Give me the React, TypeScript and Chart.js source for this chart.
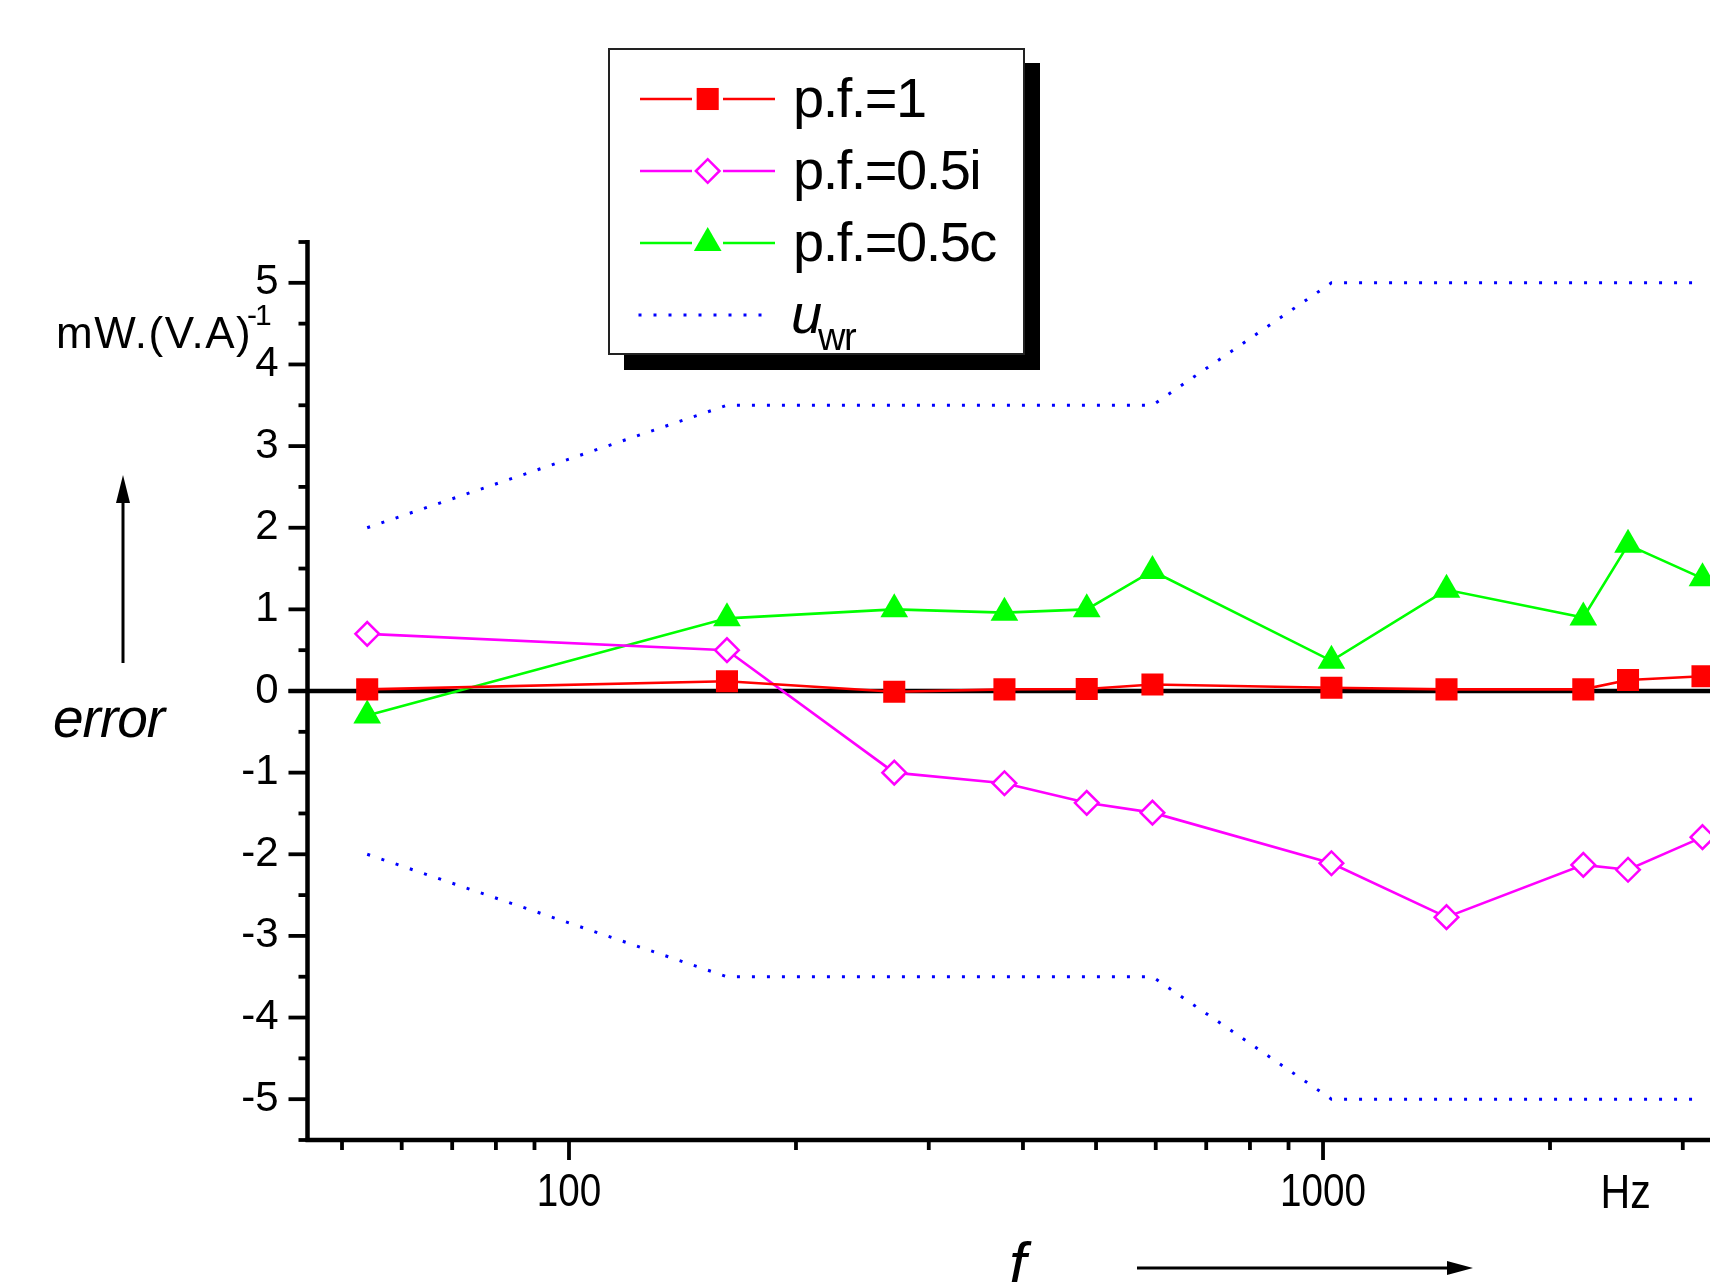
import React, { useEffect, useRef } from 'react';
import { Chart, registerables } from 'chart.js';

Chart.register(...registerables);

// ---- data ----
const freqHz = [54, 162, 270, 378, 486, 594, 1026, 1458, 2214, 2538, 3186];
const errPf1 = [0.02, 0.12, -0.01, 0.02, 0.025, 0.08, 0.04, 0.02, 0.02, 0.135, 0.18];
const errPf05i = [0.7, 0.5, -1.0, -1.13, -1.37, -1.49, -2.11, -2.77, -2.13, -2.19, -1.79];
const errPf05c = [-0.3, 0.89, 1.0, 0.96, 1.0, 1.47, 0.37, 1.24, 0.9, 1.79, 1.38];
const uwrFreq = [54, 162, 594, 1026, 3186];
const uwrUpper = [2, 3.5, 3.5, 5, 5];
const uwrLower = [-2, -3.5, -3.5, -5, -5];
const xLabelValues = [100, 1000];
const seriesNames = ['p.f.=1', 'p.f.=0.5i', 'p.f.=0.5c'];
const uwrName = { main: 'u', sub: 'wr' };
const yUnit = { main: 'mW.(V.A)', sup: '-1' };
const yTitle = 'error';
const xTitle = 'f';
const xUnit = 'Hz';

const RED = '#ff0000';
const MAGENTA = '#ff00ff';
const GREEN = '#00ff00';
const BLUE = '#0000ff';

const CANVAS_W = 1800;
const CANVAS_H = 1282;
const NARROW = 0.84;
const X_LABEL_FONT = '46px "Liberation Sans", Arial, sans-serif';
const HZ_FONT = '49px "Liberation Sans", Arial, sans-serif';

const pts = (xs: number[], ys: number[]) => xs.map((x, i) => ({ x, y: ys[i] }));

function drawMarker(ctx: CanvasRenderingContext2D, style: string, x: number, y: number, color: string) {
  ctx.save();
  if (style === 'rect') {
    const s = 15.6 * Math.SQRT1_2;
    ctx.fillStyle = color;
    ctx.fillRect(x - s, y - s, 2 * s, 2 * s);
  } else if (style === 'rectRot') {
    const r = 11.8;
    ctx.beginPath();
    ctx.moveTo(x - r, y);
    ctx.lineTo(x, y - r);
    ctx.lineTo(x + r, y);
    ctx.lineTo(x, y + r);
    ctx.closePath();
    ctx.fillStyle = '#fff';
    ctx.fill();
    ctx.lineWidth = 2.5;
    ctx.strokeStyle = color;
    ctx.stroke();
  } else if (style === 'triangle') {
    const r = 16;
    ctx.beginPath();
    let rad = 0;
    ctx.moveTo(x + Math.sin(rad) * r, y - Math.cos(rad) * r);
    rad += (2 * Math.PI) / 3;
    ctx.lineTo(x + Math.sin(rad) * r, y - Math.cos(rad) * r);
    rad += (2 * Math.PI) / 3;
    ctx.lineTo(x + Math.sin(rad) * r, y - Math.cos(rad) * r);
    ctx.closePath();
    ctx.fillStyle = color;
    ctx.fill();
  }
  ctx.restore();
}

function narrowText(ctx: CanvasRenderingContext2D, text: string, x: number, y: number) {
  ctx.save();
  ctx.translate(x, y);
  ctx.scale(NARROW, 1);
  ctx.fillText(text, 0, 0);
  ctx.restore();
}

const decorPlugin = {
  id: 'decor',
  beforeDatasetsDraw(chart: any) {
    const ctx: CanvasRenderingContext2D = chart.ctx;
    const xs = chart.scales.x;
    const ys = chart.scales.y;
    const { left, bottom, top } = chart.chartArea;
    ctx.save();
    ctx.strokeStyle = '#000';
    ctx.lineCap = 'butt';
    // zero line
    const y0 = ys.getPixelForValue(0);
    ctx.lineWidth = 4.5;
    ctx.beginPath();
    ctx.moveTo(left - 19, y0);
    ctx.lineTo(chart.width, y0);
    ctx.stroke();
    // y axis
    ctx.beginPath();
    ctx.moveTo(left, top - 2);
    ctx.lineTo(left, bottom + 2);
    ctx.stroke();
    // x axis
    ctx.beginPath();
    ctx.moveTo(left - 2, bottom);
    ctx.lineTo(chart.width, bottom);
    ctx.stroke();
    // y ticks
    ctx.lineWidth = 3.8;
    ys.ticks.forEach((t: any) => {
      const v = t.value;
      const len = Math.abs(v - Math.round(v)) < 1e-9 ? 19 : 9;
      const p = ys.getPixelForValue(v);
      ctx.beginPath();
      ctx.moveTo(left - len, p);
      ctx.lineTo(left, p);
      ctx.stroke();
    });
    // x ticks
    xs.ticks.forEach((t: any) => {
      const v = t.value;
      const e = Math.floor(Math.log10(v) + 1e-9);
      const m = v / Math.pow(10, e);
      if (Math.abs(m - Math.round(m)) > 1e-6) return;
      const len = Math.round(m) === 1 ? 20 : 10;
      const p = xs.getPixelForValue(v);
      ctx.beginPath();
      ctx.moveTo(p, bottom);
      ctx.lineTo(p, bottom + len);
      ctx.stroke();
    });
    ctx.restore();
  },
  afterDraw(chart: any) {
    const ctx: CanvasRenderingContext2D = chart.ctx as any;
    const xs = chart.scales.x;
    const { bottom } = chart.chartArea;
    ctx.save();
    // ---- x tick labels (narrow face) ----
    ctx.fillStyle = '#000';
    ctx.font = X_LABEL_FONT;
    ctx.textAlign = 'center';
    ctx.textBaseline = 'alphabetic';
    xs.ticks.forEach((t: any) => {
      if (!xLabelValues.includes(t.value)) return;
      narrowText(ctx, String(t.value), xs.getPixelForValue(t.value), bottom + 66);
    });
    // ---- Hz ----
    ctx.font = HZ_FONT;
    narrowText(ctx, xUnit, xs.getPixelForValue(2520), bottom + 68);

    // ---- legend ----
    ctx.textAlign = 'left';
    ctx.fillStyle = '#000';
    ctx.fillRect(624, 63, 416, 307);
    ctx.fillStyle = '#fff';
    ctx.fillRect(609, 49, 415, 305);
    ctx.strokeStyle = '#222';
    ctx.lineWidth = 2;
    ctx.strokeRect(609, 49, 415, 305);
    const rows = [99, 171, 243, 315];
    const cols = [RED, MAGENTA, GREEN];
    const styles = ['rect', 'rectRot', 'triangle'];
    (ctx as any).letterSpacing = '-1.5px';
    for (let i = 0; i < 3; i++) {
      const y = rows[i];
      ctx.strokeStyle = cols[i];
      ctx.lineWidth = 2.6;
      ctx.beginPath();
      ctx.moveTo(640, y);
      ctx.lineTo(692, y);
      ctx.moveTo(723, y);
      ctx.lineTo(775, y);
      ctx.stroke();
      drawMarker(ctx, styles[i], 707.7, y, cols[i]);
      ctx.fillStyle = '#000';
      ctx.font = '56px "Liberation Sans", Arial, sans-serif';
      ctx.fillText(seriesNames[i], 793, y + 18);
    }
    // u_wr row
    ctx.fillStyle = BLUE;
    for (let x = 640; x <= 764; x += 15) ctx.fillRect(x - 1.5, rows[3] - 1.5, 3, 3);
    ctx.fillStyle = '#000';
    ctx.font = 'italic 56px "Liberation Sans", Arial, sans-serif';
    ctx.fillText(uwrName.main, 791, 333);
    ctx.font = '38px "Liberation Sans", Arial, sans-serif';
    ctx.fillText(uwrName.sub, 818, 350);

    // ---- y unit ----
    (ctx as any).letterSpacing = '1.5px';
    ctx.font = '44px "Liberation Sans", Arial, sans-serif';
    ctx.fillText(yUnit.main, 56, 348);
    ctx.font = '30px "Liberation Sans", Arial, sans-serif';
    (ctx as any).letterSpacing = '-2px';
    ctx.fillText(yUnit.sup, 247, 325);

    // ---- y title + arrow ----
    (ctx as any).letterSpacing = '-1px';
    ctx.font = 'italic 55px "Liberation Sans", Arial, sans-serif';
    ctx.fillText(yTitle, 53, 737);
    ctx.strokeStyle = '#000';
    ctx.lineWidth = 3;
    ctx.beginPath();
    ctx.moveTo(123, 663);
    ctx.lineTo(123, 498);
    ctx.stroke();
    ctx.beginPath();
    ctx.moveTo(123, 475);
    ctx.lineTo(116, 503);
    ctx.lineTo(130, 503);
    ctx.closePath();
    ctx.fillStyle = '#000';
    ctx.fill();

    // ---- x title + arrow ----
    (ctx as any).letterSpacing = '0px';
    ctx.font = 'italic 62px "Liberation Sans", Arial, sans-serif';
    ctx.fillText(xTitle, 1009, 1285);
    ctx.beginPath();
    ctx.moveTo(1137, 1268);
    ctx.lineTo(1450, 1268);
    ctx.stroke();
    ctx.beginPath();
    ctx.moveTo(1473, 1268);
    ctx.lineTo(1447, 1261);
    ctx.lineTo(1447, 1275);
    ctx.closePath();
    ctx.fill();
    ctx.restore();
  },
};

export default function App() {
  const ref = useRef<HTMLCanvasElement | null>(null);
  useEffect(() => {
    if (!ref.current) return;
    const chart = new Chart(ref.current, {
      type: 'line',
      data: {
        datasets: [
          {
            label: seriesNames[0],
            data: pts(freqHz, errPf1),
            borderColor: RED,
            backgroundColor: RED,
            borderWidth: 2.6,
            pointStyle: 'rect',
            pointRadius: 15.6,
            pointBorderWidth: 0,
            pointBackgroundColor: RED,
          },
          {
            label: seriesNames[1],
            data: pts(freqHz, errPf05i),
            borderColor: MAGENTA,
            backgroundColor: '#ffffff',
            borderWidth: 2.6,
            pointStyle: 'rectRot',
            pointRadius: 11.8,
            pointBorderWidth: 2.5,
            pointBorderColor: MAGENTA,
            pointBackgroundColor: '#ffffff',
          },
          {
            label: seriesNames[2],
            data: pts(freqHz, errPf05c),
            borderColor: GREEN,
            backgroundColor: GREEN,
            borderWidth: 2.6,
            pointStyle: 'triangle',
            pointRadius: 16,
            pointBorderWidth: 0,
            pointBackgroundColor: GREEN,
          },
          {
            label: 'u_wr',
            data: pts(uwrFreq, uwrUpper),
            borderColor: BLUE,
            borderWidth: 3,
            borderDash: [3, 12],
            pointRadius: 0,
          },
          {
            label: 'u_wr-',
            data: pts(uwrFreq, uwrLower),
            borderColor: BLUE,
            borderWidth: 3,
            borderDash: [3, 12],
            pointRadius: 0,
          },
        ],
      },
      options: {
        animation: false,
        responsive: false,
        devicePixelRatio: 1,
        layout: { padding: { top: 242, right: 23, left: 0, bottom: 0 } },
        plugins: { legend: { display: false }, tooltip: { enabled: false } },
        elements: { line: { tension: 0 } },
        scales: {
          x: {
            type: 'logarithmic',
            min: 45,
            max: 4000,
            grid: { display: false, drawTicks: false },
            border: { display: false },
            afterFit: (s: any) => {
              s.height = 142;
            },
            ticks: {
              display: false,
              autoSkip: false,
              maxRotation: 0,
              callback: (v: any) => (xLabelValues.includes(Number(v)) ? String(v) : ''),
            },
          },
          y: {
            type: 'linear',
            min: -5.5,
            max: 5.5,
            grid: { display: false, drawTicks: false },
            border: { display: false },
            afterFit: (s: any) => {
              s.width = 307.5;
            },
            ticks: {
              stepSize: 0.5,
              autoSkip: false,
              padding: 29,
              color: '#000',
              font: { family: '"Liberation Sans", Arial, sans-serif', size: 42 },
              callback: (v: any) => {
                const n = Number(v);
                return Math.abs(n - Math.round(n)) < 1e-9 ? String(Math.round(n)) : '';
              },
            },
          },
        },
      },
      plugins: [decorPlugin],
    } as any);
    return () => chart.destroy();
  }, []);
  return (
    <div
      style={{
        position: 'fixed',
        left: 0,
        top: 0,
        width: 1710,
        height: 1282,
        overflow: 'hidden',
        background: '#fff',
      }}
    >
      <canvas ref={ref} width={CANVAS_W} height={CANVAS_H} style={{ display: 'block' }} />
    </div>
  );
}
